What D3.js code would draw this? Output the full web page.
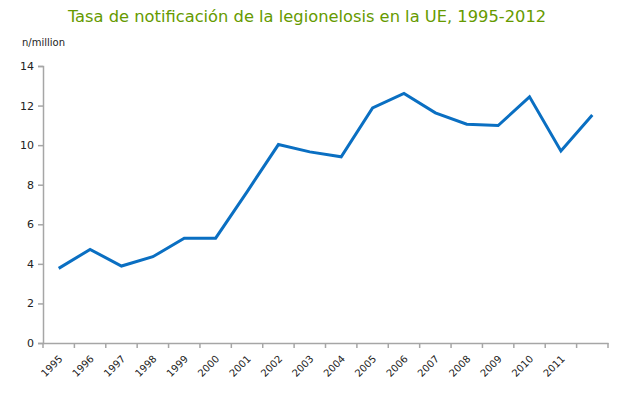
<!DOCTYPE html>
<html>
<head>
<meta charset="utf-8">
<script src="https://cdn.jsdelivr.net/npm/d3@7"></script>
<style>
  body { margin: 0; background: #fff; }
  svg { display: block; }
</style>
</head>
<body>
<script>
"use strict";
(function(){
    // data
    const years = ["1995", "1996", "1997", "1998", "1999", "2000", "2001", "2002", "2003",
                   "2004", "2005", "2006", "2007", "2008", "2009", "2010", "2011", "2012"]
    const rates = [3.77, 4.73, 3.89, 4.36, 5.30, 5.30, 7.64, 10.03, 9.66,
                   9.41, 11.88, 12.61, 11.63, 11.06, 10.99, 12.44, 9.71, 11.52]
    // the original only labels up to 2011
    const tickLabels = ["1995", "1996", "1997", "1998", "1999", "2000", "2001", "2002", "2003",
                        "2004", "2005", "2006", "2007", "2008", "2009", "2010", "2011", ""]
    const yTicks = [0, 2, 4, 6, 8, 10, 12, 14]

    const measurements = {
        width: 630,
        height: 399,
        left: 43,
        right: 608,
        top: 66,
        bottom: 343
    }

    let svgContainer = d3.select('body').append('svg')
        .attr('width', measurements.width)
        .attr('height', measurements.height)

    let scaleX = d3.scaleBand()
        .domain(years)
        .range([measurements.left, measurements.right])

    let scaleY = d3.scaleLinear()
        .domain([0, 14])
        .range([measurements.bottom, measurements.top])

    // title
    svgContainer.append('text')
        .attr('x', 307)
        .attr('y', 22)
        .attr('text-anchor', 'middle')
        .style('font-family', 'DejaVu Sans, Verdana, sans-serif')
        .style('font-size', '16.3px')
        .style('fill', '#669a00')
        .text('Tasa de notificación de la legionelosis en la UE, 1995-2012')

    svgContainer.append('text')
        .attr('x', 22)
        .attr('y', 46)
        .style('font-family', 'DejaVu Sans, Tahoma, sans-serif')
        .style('font-size', '10px')
        .style('fill', '#222')
        .text('n/million')

    // y axis
    let yAxis = d3.axisLeft(scaleY)
        .tickValues(yTicks)
        .tickSize(5)
        .tickPadding(4)
    let gy = svgContainer.append('g')
        .attr('transform', `translate(${measurements.left}, 0)`)
        .call(yAxis)

    // x axis: ticks on band edges, labels at band centres
    let xAxis = d3.axisBottom(scaleX)
        .tickSize(0)
        .tickFormat((d, i) => tickLabels[i])
    let gx = svgContainer.append('g')
        .attr('transform', `translate(0, ${measurements.bottom})`)
        .call(xAxis)

    gx.selectAll('.tick text')
        .attr('text-anchor', 'end')
        .attr('x', 0)
        .attr('y', 0)
        .attr('dy', '0.35em')
        .attr('transform', 'translate(2, 14) rotate(-45)')

    let edges = years.map(y => scaleX(y)).concat([measurements.right])
    gx.selectAll('.edge')
        .data(edges)
        .enter()
        .append('line')
        .attr('class', 'edge')
        .attr('x1', d => d)
        .attr('x2', d => d)
        .attr('y1', 0)
        .attr('y2', 5)

    ;[gx, gy].forEach(g => {
        g.selectAll('path.domain').attr('stroke', '#a6a6a6').attr('stroke-width', 1.5)
        g.selectAll('line').attr('stroke', '#a6a6a6').attr('stroke-width', 1.5)
        g.selectAll('text')
            .style('font-family', 'DejaVu Sans, Tahoma, sans-serif')
            .style('font-size', '11px')
            .style('fill', '#222')
    })
    gx.selectAll('text').style('font-size', '10px')

    // line
    let line = d3.line()
        .x((d, i) => scaleX(years[i]) + scaleX.bandwidth() / 2)
        .y(d => scaleY(d))

    svgContainer.append('path')
        .datum(rates)
        .attr('d', line)
        .attr('fill', 'none')
        .attr('stroke', '#0a6fc2')
        .attr('stroke-width', 3)
        .attr('stroke-linejoin', 'miter')
})()
</script>
</body>
</html>
